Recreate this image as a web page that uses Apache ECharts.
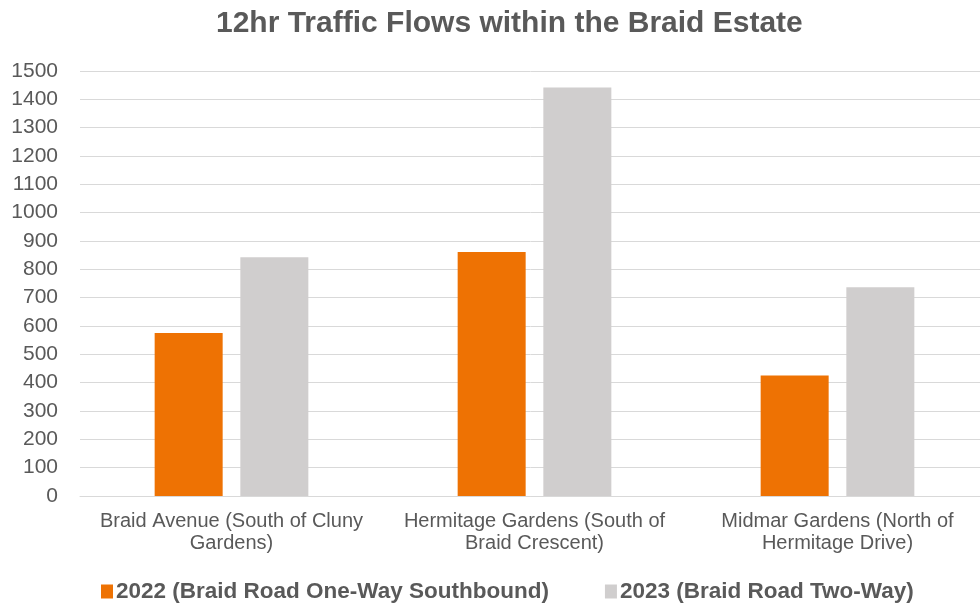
<!DOCTYPE html>
<html><head><meta charset="utf-8">
<script src="https://cdn.jsdelivr.net/npm/echarts@6/dist/echarts.min.js"></script>
<style>html,body{margin:0;padding:0;background:#fff}#c{width:980px;height:603px}</style>
</head><body><div id="c"></div>
<script>
const categories = ["Braid Avenue (South of Cluny\nGardens)", "Hermitage Gardens (South of\nBraid Crescent)", "Midmar Gardens (North of\nHermitage Drive)"];
const seriesNames = ["2022 (Braid Road One-Way Southbound)", "2023 (Braid Road Two-Way)"];
const values2022 = [575, 861, 425];
const values2023 = [843, 1442, 737];
const chart = echarts.init(document.getElementById('c'));
const font = '"Liberation Sans", Arial, sans-serif';
chart.setOption({
  animation: false,
  title: {text: '12hr Traffic Flows within the Braid Estate', left: 211, top: 4,
    textStyle: {fontFamily: font, fontSize: 30, fontWeight: 'bold', color: '#595959'}},
  legend: {top: 575, left: 96, itemWidth: 12, itemHeight: 14, itemGap: 56, icon: 'rect',
    textStyle: {fontFamily: font, fontSize: 22.5, fontWeight: 'bold', color: '#595959', padding: [0, 0, 0, -2]},
    data: seriesNames},
  grid: {left: 80, width: 909, top: 71, bottom: 107, containLabel: false, outerBoundsMode: 'none'},
  xAxis: {type: 'category', data: categories,
    axisLine: {lineStyle: {color: '#d9d9d9', width: 1}}, axisTick: {show: false},
    axisLabel: {fontFamily: font, fontSize: 20, color: '#595959', margin: 14, lineHeight: 22, interval: 0}},
  yAxis: {type: 'value', min: 0, max: 1500, interval: 100,
    axisLine: {show: false}, axisTick: {show: false},
    splitLine: {lineStyle: {color: '#d9d9d9', width: 1}},
    axisLabel: {fontFamily: font, fontSize: 21, color: '#595959', margin: 22, formatter: v => String(v)}},
  series: [
    {name: seriesNames[0], type: 'bar', data: values2022, barWidth: 68, barGap: '26%',
     itemStyle: {color: '#EE7203'}},
    {name: seriesNames[1], type: 'bar', data: values2023, barWidth: 68,
     itemStyle: {color: '#D0CECE'}}
  ]
});
</script></body></html>
